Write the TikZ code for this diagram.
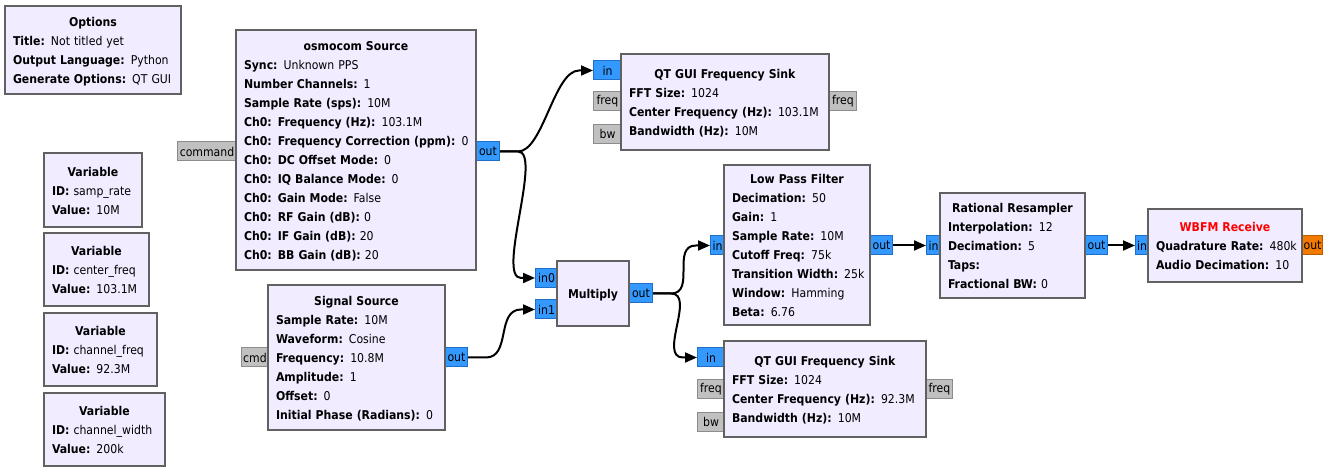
\documentclass[tikz,border=0pt]{standalone}
\usepackage{fontspec}
\setmainfont{DejaVu Sans Condensed}
\usetikzlibrary{arrows.meta,calc}
\definecolor{blkfill}{HTML}{F1ECFF}
\definecolor{blkdraw}{HTML}{616161}
\definecolor{pblue}{HTML}{3399FF}
\definecolor{pblued}{HTML}{1F6EC8}
\definecolor{pgray}{HTML}{C0C0C0}
\definecolor{pgrayd}{HTML}{8C8C8C}
\definecolor{porange}{HTML}{F37A00}
\definecolor{poranged}{HTML}{B85C00}
\newcommand\tstrut{\rule[-3.15pt]{0pt}{14.25pt}}
\newcommand\kv[2]{\mbox{\tstrut\textbf{#1:} #2}}
\newcommand\ttl[2][black]{\tstrut\hfill\textcolor{#1}{\textbf{#2}}\hfill\null}
\newcommand\bfont{\fontsize{9.1pt}{14.25pt}\selectfont}
\tikzset{
  blk/.style={draw=blkdraw, fill=blkfill, line width=1.9pt, rectangle, inner xsep=6pt, inner ysep=0pt, align=left, font=\bfont},
  port/.style={draw=pblued, fill=pblue, line width=0.75pt, rectangle, inner sep=0pt, minimum height=14.25pt, anchor=west, font=\bfont},
  gport/.style={port, draw=pgrayd, fill=pgray},
  oport/.style={port, draw=poranged, fill=porange},
  conn/.style={draw=black, line width=1.5pt, -{Triangle[length=9pt,width=7.5pt]}}
}
\begin{document}
\begin{tikzpicture}[x=0.75pt,y=-0.75pt]
\fill[white] (0,0) rectangle (1333,473);
\useasboundingbox (0,0) rectangle (1333,473);
% ports
\node[gport, minimum width=44.25pt] (osmc) at (177,151.5) {command};
\node[port, minimum width=17.25pt] (osmo) at (476,151.5) {out};
\node[port, minimum width=21pt] (sk1i) at (593,70.5) {in};
\node[gport, minimum width=21pt] (sk1f) at (593,101) {freq};
\node[gport, minimum width=21pt] (sk1b) at (593,134) {bw};
\node[gport, minimum width=20.25pt] (sk1fo) at (829,101) {freq};
\node[gport, minimum width=20.25pt] (sigc) at (241,357.5) {cmd};
\node[port, minimum width=16.5pt] (sigo) at (445,357.5) {out};
\node[port, minimum width=16.5pt] (mi0) at (535,278) {in0};
\node[port, minimum width=16.5pt] (mi1) at (535,309.5) {in1};
\node[port, minimum width=17.25pt] (mo) at (629,293.5) {out};
\node[port, minimum width=10.5pt] (lpfi) at (710,245.5) {in};
\node[port, minimum width=16.5pt] (lpfo) at (870,245.5) {out};
\node[port, minimum width=10.5pt] (rri) at (926,245.5) {in};
\node[port, minimum width=16.5pt] (rro) at (1085,245.5) {out};
\node[port, minimum width=9.75pt] (wbi) at (1135,245.5) {in};
\node[oport, minimum width=15pt] (wbo) at (1302,245.5) {out};
\node[port, minimum width=20.25pt] (sk2i) at (697,357.5) {in};
\node[gport, minimum width=20.25pt] (sk2f) at (697,389) {freq};
\node[gport, minimum width=20.25pt] (sk2b) at (697,421.5) {bw};
\node[gport, minimum width=19.5pt] (sk2fo) at (926,389) {freq};
% blocks
\node[blk, minimum width=132pt, minimum height=66pt, text width=120pt] (opt) at (93,50)
  {\ttl{Options}\\\kv{Title}{Not titled yet}\\\kv{Output Language}{Python}\\\kv{Generate Options}{QT GUI}};
\node[blk, minimum width=180pt, minimum height=180pt, text width=168pt] (osm) at (356,150)
  {\ttl{osmocom Source}\\\kv{Sync}{Unknown PPS}\\\kv{Number Channels}{1}\\\kv{Sample Rate (sps)}{10M}\\
   \kv{Ch0: Frequency (Hz)}{103.1M}\\\kv{Ch0: Frequency Correction (ppm)}{0}\\\kv{Ch0: DC Offset Mode}{0}\\
   \kv{Ch0: IQ Balance Mode}{0}\\\kv{Ch0: Gain Mode}{False}\\\kv{Ch0: RF Gain (dB)}{0}\\
   \kv{Ch0: IF Gain (dB)}{20}\\\kv{Ch0: BB Gain (dB)}{20}};
\node[blk, minimum width=156pt, minimum height=72pt, text width=144pt] (sk1) at (725,102)
  {\ttl{QT GUI Frequency Sink}\\\kv{FFT Size}{1024}\\\kv{Center Frequency (Hz)}{103.1M}\\\kv{Bandwidth (Hz)}{10M}};
\node[blk, minimum width=73.5pt, minimum height=55.5pt, text width=61.5pt] (v1) at (93,190)
  {\ttl{Variable}\\\kv{ID}{samp\_rate}\\\kv{Value}{10M}};
\node[blk, minimum width=78.75pt, minimum height=54.75pt, text width=66.75pt] (v2) at (96.5,269.5)
  {\ttl{Variable}\\\kv{ID}{center\_freq}\\\kv{Value}{103.1M}};
\node[blk, minimum width=84.75pt, minimum height=54.75pt, text width=72.75pt] (v3) at (100.5,349.5)
  {\ttl{Variable}\\\kv{ID}{channel\_freq}\\\kv{Value}{92.3M}};
\node[blk, minimum width=90.75pt, minimum height=54.75pt, text width=78.75pt] (v4) at (104.5,429.5)
  {\ttl{Variable}\\\kv{ID}{channel\_width}\\\kv{Value}{200k}};
\node[blk, minimum width=132.75pt, minimum height=108.75pt, text width=120.75pt] (sig) at (356.5,357.5)
  {\ttl{Signal Source}\\\kv{Sample Rate}{10M}\\\kv{Waveform}{Cosine}\\\kv{Frequency}{10.8M}\\
   \kv{Amplitude}{1}\\\kv{Offset}{0}\\\kv{Initial Phase (Radians)}{0}};
\node[blk, minimum width=54pt, minimum height=48.75pt, text width=42pt] (mul) at (593,293.5)
  {\ttl{Multiply}};
\node[blk, minimum width=109.5pt, minimum height=120pt, text width=97.5pt] (lpf) at (797,245)
  {\ttl{Low Pass Filter}\\\kv{Decimation}{50}\\\kv{Gain}{1}\\\kv{Sample Rate}{10M}\\\kv{Cutoff Freq}{75k}\\
   \kv{Transition Width}{25k}\\\kv{Window}{Hamming}\\\kv{Beta}{6.76}};
\node[blk, minimum width=108.75pt, minimum height=78.75pt, text width=96.75pt] (rr) at (1012.5,245.5)
  {\ttl{Rational Resampler}\\\kv{Interpolation}{12}\\\kv{Decimation}{5}\\\kv{Taps}{}\\\kv{Fractional BW}{0}};
\node[blk, minimum width=115.5pt, minimum height=54.75pt, text width=103.5pt] (wb) at (1225,245.5)
  {\ttl[red]{WBFM Receive}\\\kv{Quadrature Rate}{480k}\\\kv{Audio Decimation}{10}};
\node[blk, minimum width=151.5pt, minimum height=72pt, text width=139.5pt] (sk2) at (825,389)
  {\ttl{QT GUI Frequency Sink}\\\kv{FFT Size}{1024}\\\kv{Center Frequency (Hz)}{92.3M}\\\kv{Bandwidth (Hz)}{10M}};
% connections
\draw[conn] (osmo.east) -- ++(18,0) .. controls +(25,0) and ($(sk1i.west)+(-39,0)$) .. ($(sk1i.west)+(-14,0)$) -- (sk1i.west);
\draw[conn] (osmo.east) -- ++(18,0) .. controls +(25,0) and ($(mi0.west)+(-39,0)$) .. ($(mi0.west)+(-14,0)$) -- (mi0.west);
\draw[conn] (sigo.east) -- ++(18,0) .. controls +(25,0) and ($(mi1.west)+(-39,0)$) .. ($(mi1.west)+(-14,0)$) -- (mi1.west);
\draw[conn] (mo.east) -- ++(18,0) .. controls +(25,0) and ($(lpfi.west)+(-39,0)$) .. ($(lpfi.west)+(-14,0)$) -- (lpfi.west);
\draw[conn] (mo.east) -- ++(18,0) .. controls +(25,0) and ($(sk2i.west)+(-39,0)$) .. ($(sk2i.west)+(-14,0)$) -- (sk2i.west);
\draw[conn] (lpfo.east) -- (rri.west);
\draw[conn] (rro.east) -- (wbi.west);
\end{tikzpicture}
\end{document}
